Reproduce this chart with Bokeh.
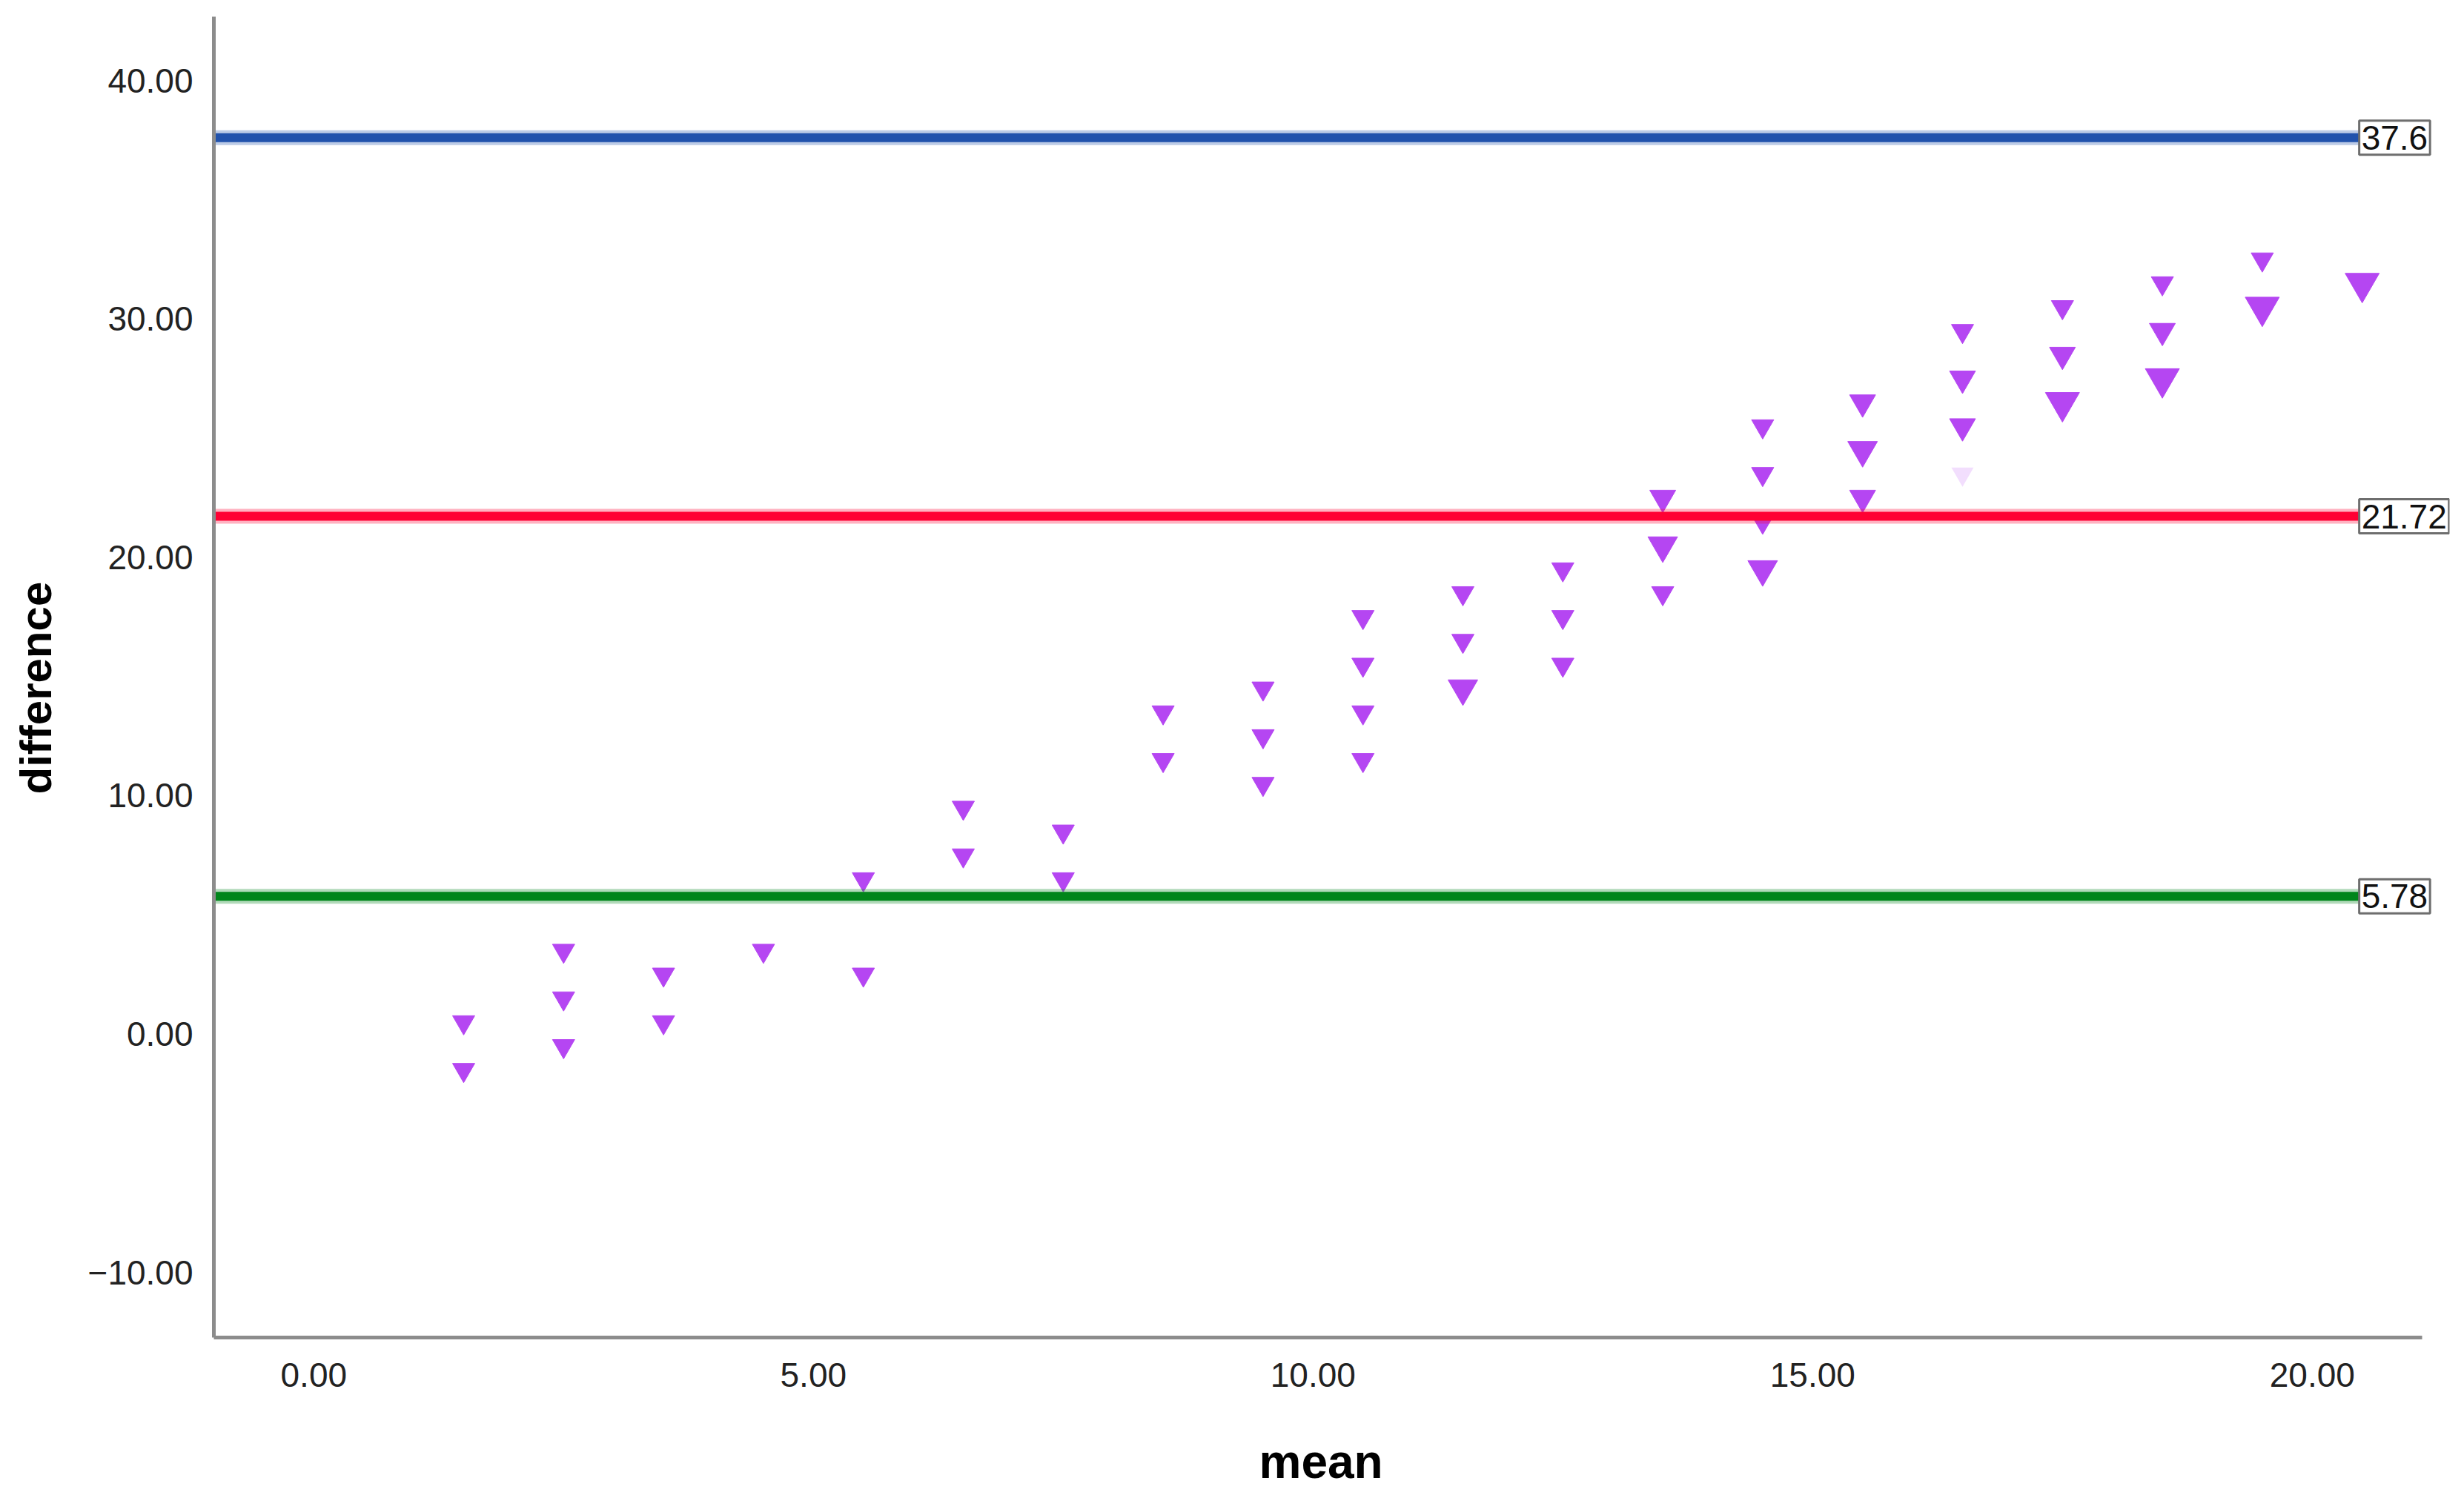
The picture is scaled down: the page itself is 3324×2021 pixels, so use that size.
from bokeh.plotting import figure
from bokeh.models import ColumnDataSource, Label, FixedTicker, Title
from bokeh.transform import dodge
from bokeh.embed import file_html
from bokeh.resources import INLINE

# ---------------- data ----------------
mean_vals = [1.5, 1.5,
             2.5, 2.5, 2.5,
             3.5, 3.5,
             4.5,
             5.5, 5.5,
             6.5, 6.5,
             7.5, 7.5,
             8.5, 8.5,
             9.5, 9.5, 9.5,
             10.5, 10.5, 10.5, 10.5,
             11.5, 11.5, 11.5,
             12.5, 12.5, 12.5,
             13.5, 13.5, 13.5,
             14.5, 14.5, 14.5, 14.5,
             15.5, 15.5, 15.5,
             16.5, 16.5, 16.5,
             17.5, 17.5, 17.5,
             18.5, 18.5, 18.5,
             19.5, 19.5,
             20.5]
diff_vals = [0, -2,
             3, 1, -1,
             2, 0,
             3,
             6, 2,
             9, 7,
             8, 6,
             13, 11,
             14, 12, 10,
             17, 15, 13, 11,
             18, 16, 14,
             19, 17, 15,
             22, 20, 18,
             25, 23, 21, 19,
             26, 24, 22,
             29, 27, 25,
             30, 28, 26,
             31, 29, 27,
             32, 30,
             31]
case_counts = [1, 1,
               1, 1, 1,
               1, 1,
               1,
               1, 1,
               1, 1,
               1, 1,
               1, 1,
               1, 1, 1,
               1, 1, 1, 1,
               1, 1, 3,
               1, 1, 1,
               2, 3, 1,
               1, 1, 1, 3,
               2, 3, 2,
               1, 2, 2,
               1, 2, 4,
               1, 2, 4,
               1, 4,
               4]
faint_mean = [16.5]
faint_diff = [23]

line_values = [37.6, 21.72, 5.78]
line_labels = ["37.6", "21.72", "5.78"]
line_colors = ["#2152AC", "#FF0033", "#00851A"]

x_ticks = [0, 5, 10, 15, 20]
y_ticks = [-10, 0, 10, 20, 30, 40]

# axis extent (the frame extends a little further right to hold the value boxes)
x_lo, x_hi, x_frame_hi = -1.0, 21.1, 21.374

# ---------------- figure ----------------
W, H = 3308, 2013
p = figure(width=W, height=H, output_backend="svg", toolbar_location=None,
           x_range=(x_lo, x_frame_hi), y_range=(-12.73, 42.68),
           min_border_left=288, min_border_right=4,
           min_border_top=22, min_border_bottom=209)
p.outline_line_color = None
p.background_fill_color = "white"
p.border_fill_color = "white"
p.xgrid.visible = False
p.ygrid.visible = False

size_map = {1: 30, 2: 35, 3: 40, 4: 46}
src = ColumnDataSource(dict(mean=mean_vals, diff=diff_vals,
                            sz=[size_map[c] for c in case_counts]))
marker_color = "#B546F2"
p.scatter(x="mean", y=dodge("diff", 0.5), size="sz", source=src,
          marker="inverted_triangle", fill_color=marker_color,
          line_color=marker_color, line_width=1)
fsrc = ColumnDataSource(dict(mean=faint_mean, diff=faint_diff))
p.scatter(x="mean", y=dodge("diff", 0.5), size=30, source=fsrc,
          marker="inverted_triangle", fill_color=marker_color,
          line_color=None, fill_alpha=0.18)

lsrc = ColumnDataSource(dict(y=line_values, c=line_colors,
                             x0=[x_lo] * len(line_values),
                             x1=[x_hi] * len(line_values)))
p.segment(x0="x0", x1="x1", y0="y", y1="y", line_color="c", line_width=20,
          line_alpha=0.3, source=lsrc)
p.segment(x0="x0", x1="x1", y0="y", y1="y", line_color="c", line_width=12,
          source=lsrc)

for v, t in zip(line_values, line_labels):
    p.add_layout(Label(x=20.47, y=v, text=t, x_units="data", y_units="data",
                       text_align="left", text_baseline="middle",
                       text_font="Liberation Sans", text_font_size="46px",
                       text_color="#111111",
                       background_fill_color="white",
                       border_line_color="#6E6E6E", border_line_width=3,
                       padding=dict(left=3, right=3, top=7, bottom=7)))

# ---------------- axes ----------------
for ax in (p.xaxis[0], p.yaxis[0]):
    ax.axis_line_color = "#8C8C8C"
    ax.axis_line_width = 5
    ax.major_tick_line_color = None
    ax.minor_tick_line_color = None
    ax.major_label_text_font = "Liberation Sans"
    ax.major_label_text_font_size = "46px"
    ax.major_label_text_color = "#222222"

p.xaxis.bounds = (x_lo, x_hi)
p.xaxis.ticker = FixedTicker(ticks=x_ticks)
p.yaxis.ticker = FixedTicker(ticks=y_ticks)
p.xaxis.major_label_overrides = {t: f"{t:.2f}" for t in x_ticks}
p.yaxis.major_label_overrides = {t: f"{t:.2f}".replace("-", "\u2212") for t in y_ticks}
p.xaxis.major_label_standoff = 28
p.yaxis.major_label_standoff = 22

# axis titles placed as side-panel titles so they can be positioned precisely
p.add_layout(Title(text="mean", align="left", offset=1410, vertical_align="top",
                   standoff=0, text_font="Liberation Sans", text_font_size="64px",
                   text_font_style="bold", text_color="#000000",
                   padding=dict(left=0, right=0, top=62, bottom=0)), "below")
p.add_layout(Title(text="difference", align="left", offset=733,
                   vertical_align="bottom", standoff=0,
                   text_font="Liberation Sans", text_font_size="60px",
                   text_font_style="bold", text_color="#000000",
                   padding=dict(left=0, right=0, top=0, bottom=34)), "left")

open("out.html", "w").write(file_html(p, INLINE))
